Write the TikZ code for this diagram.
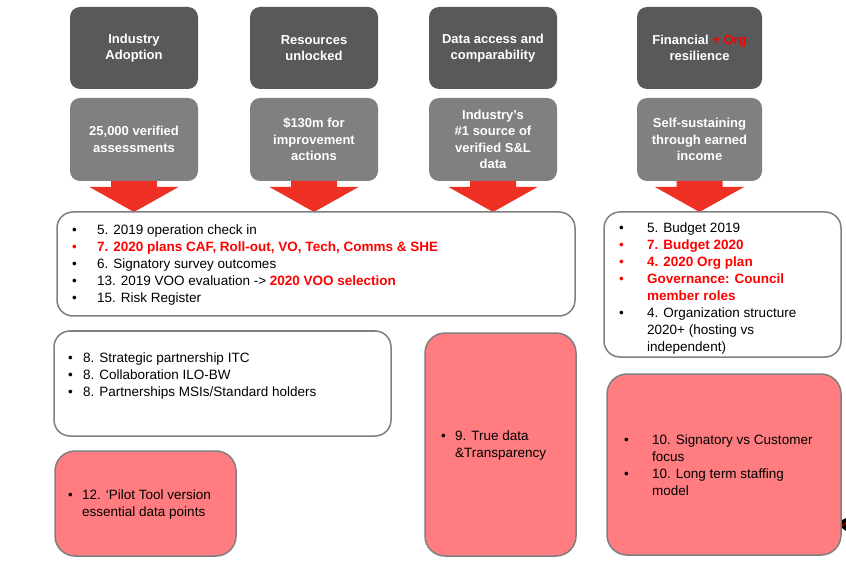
\documentclass[tikz,border=0pt]{standalone}
\usepackage{fontspec}
\setmainfont{Liberation Sans}
\usetikzlibrary{calc}
\definecolor{darkbox}{HTML}{595959}
\definecolor{midgray}{HTML}{808080}
\definecolor{edgegray}{HTML}{7F7F7F}
\definecolor{pinkfill}{HTML}{FF7C80}
\definecolor{arrowred}{HTML}{EE3124}
\definecolor{txtred}{HTML}{FF0000}
\newcommand\rd[1]{{\color{txtred}\bfseries #1}}
\newcommand\rb{\leavevmode{\color{txtred}•}}
\newcommand\dropshape[2]{%
  \fill[arrowred] ($(#1.south)+(-23,0)$) -- ($(#1.south)+(23,0)$)
    -- ($(#1.south |- #2.north)+(23,-25)$) -- ($(#1.south |- #2.north)+(44.5,-25)$)
    -- (#1.south |- #2.north)
    -- ($(#1.south |- #2.north)+(-44.5,-25)$) -- ($(#1.south |- #2.north)+(-23,-25)$) -- cycle;}
\tikzset{
  headbox/.style={fill=darkbox, rounded corners=10pt, text=white,
    font=\fontsize{13}{16.5}\selectfont\bfseries, align=center,
    minimum width=128pt, minimum height=82pt, inner sep=0pt, outer sep=0pt},
  subbox/.style={headbox, fill=midgray, minimum height=83pt},
  panel/.style={draw=edgegray, line width=1.5pt, rounded corners=16pt, fill=white,
    inner sep=0pt, outer sep=0pt},
  pinkpanel/.style={panel, fill=pinkfill, rounded corners=20pt},
  bodytext/.style={font=\fontsize{13.5}{17}\selectfont, text=black, inner sep=0pt, align=left}
}
\begin{document}
\begin{tikzpicture}[x=1pt,y=-1pt]
\useasboundingbox (0,0) rectangle (846,569);
% header boxes
\node[headbox] (d1) at (134,48) {Industry\\Adoption};
\node[headbox] (d2) at (314,48) {Resources\\unlocked};
\node[headbox] (d3) at (493,48) {Data access and\\comparability};
\node[headbox, minimum width=125pt] (d4) at (699.5,48) {Financial {\color{txtred}+ Org}\\resilience};
% sub boxes
\node[subbox] (g1) at (134,139.5) {25,000 verified\\assessments};
\node[subbox] (g2) at (314,139.5) {\$130m for\\improvement\\actions};
\node[subbox] (g3) at (493,139.5) {Industry’s\\\#1 source of\\verified S\&L\\data};
\node[subbox, minimum width=125pt] (g4) at (699.5,139.5) {Self-sustaining\\through earned\\income};
% panels (positions only, drawn after arrows)
\path (316,264) node[minimum width=518pt, minimum height=104pt, inner sep=0pt, outer sep=0pt] (b1) {};
\path (722.5,284.5) node[minimum width=237pt, minimum height=145pt, inner sep=0pt, outer sep=0pt] (b2) {};
% arrows
\dropshape{g1}{b1}
\dropshape{g2}{b1}
\dropshape{g3}{b1}
\dropshape{g4}{b2}
% panels
\node[panel, minimum width=518pt, minimum height=104pt] (p1) at (b1) {};
\node[panel, minimum width=237pt, minimum height=145pt] (p2) at (b2) {};
\node[panel, minimum width=337pt, minimum height=105pt] (p3) at (222.5,383.5) {};
\node[pinkpanel, minimum width=181pt, minimum height=105pt] (p12) at (145.5,503.5) {};
\node[pinkpanel, minimum width=151pt, minimum height=223pt] (p9) at (500.5,444.5) {};
\node[pinkpanel, minimum width=234pt, minimum height=181pt] (p10) at (724,464.5) {};
% texts
\node[bodytext, anchor=west] (t1) at (72,265) {\begin{tabular}{@{}p{25pt}@{}l@{}}
• & 5. 2019 operation check in\\
\rb & \rd{7. 2020 plans CAF, Roll-out, VO, Tech, Comms \& SHE}\\
• & 6. Signatory survey outcomes\\
• & 13. 2019 VOO evaluation -> \rd{2020 VOO selection}\\
• & 15. Risk Register
\end{tabular}};
\node[bodytext, anchor=west] (t2) at (619,289) {\begin{tabular}{@{}p{28pt}@{}l@{}}
• & 5. Budget 2019\\
\rb & \rd{7. Budget 2020}\\
\rb & \rd{4. 2020 Org plan}\\
\rb & \rd{Governance: Council}\\
 & \rd{member roles}\\
• & 4. Organization structure\\
 & 2020+ (hosting vs\\
 & independent)
\end{tabular}};
\node[bodytext, anchor=north west] (t3) at (68,350) {\begin{tabular}{@{}p{15pt}@{}l@{}}
• & 8. Strategic partnership ITC\\
• & 8. Collaboration ILO-BW\\
• & 8. Partnerships MSIs/Standard holders
\end{tabular}};
\node[bodytext, anchor=west] (t12) at (68,504.5) {\begin{tabular}{@{}p{14pt}@{}l@{}}
• & 12. ‘Pilot Tool version\\
 & essential data points
\end{tabular}};
\node[bodytext, anchor=west] (t9) at (441,445.5) {\begin{tabular}{@{}p{14pt}@{}l@{}}
• & 9. True data\\
 & \&Transparency
\end{tabular}};
\node[bodytext, anchor=west] (t10) at (624,466.5) {\begin{tabular}{@{}p{28pt}@{}l@{}}
• & 10. Signatory vs Customer\\
 & focus\\
• & 10. Long term staffing\\
 & model
\end{tabular}};
% small cut-off mark at right edge
\fill[black] (842,520) -- (846,518) -- (846,531) -- (842,528) -- cycle;
\draw[txtred, line width=0.8pt] (842,526) -- (846,523);
\end{tikzpicture}
\end{document}
